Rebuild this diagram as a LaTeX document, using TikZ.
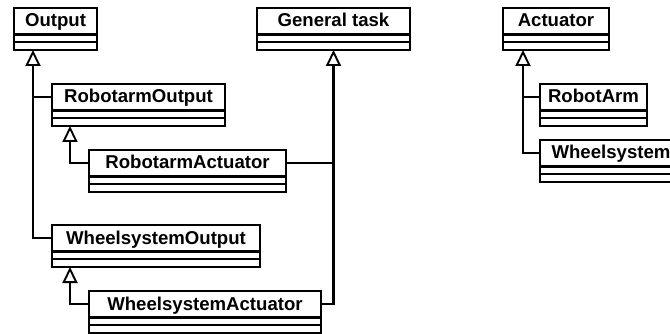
\documentclass[tikz,border=0pt]{standalone}
\usepackage{fontspec}
\setmainfont{Liberation Sans}
\usetikzlibrary{arrows.meta}

\tikzset{
  frame/.style={line width=2.1pt},
  ctitle/.style={frame, draw, rectangle, inner sep=0pt, outer sep=0pt,
    minimum height=26.5pt, text height=14pt, text depth=2.5pt,
    font=\fontsize{18.6pt}{20pt}\selectfont\bfseries},
  ccomp/.style={frame, draw, rectangle, inner sep=0pt, outer sep=0pt,
    minimum height=15.5pt},
  link/.style={frame, line join=miter},
  inherit/.style={link, -{Triangle[open, length=16pt, width=15pt, line width=1.9pt]}},
}

% class box: name, left x, top y, width, title
\newcommand\umlclass[5]{%
  \node[ctitle, minimum width=#4pt, anchor=north west] (#1) at (#2,#3) {#5};
  \node[ccomp, minimum width=#4pt, anchor=north] (#1-c) at (#1.south) {};
  \draw[frame] ([yshift=-7.5pt]#1-c.north west) -- ([yshift=-7.5pt]#1-c.north east);
}

\begin{document}
\begin{tikzpicture}[x=1pt, y=-1pt]
  \useasboundingbox (0,0) rectangle (670,334);
  \clip (0,0) rectangle (670,334);

  % classes
  \umlclass{out}{14}{8}{83}{Output}
  \umlclass{gen}{257}{8}{153}{General task}
  \umlclass{act}{503}{8}{106}{Actuator}
  \umlclass{rout}{52}{84}{173}{RobotarmOutput}
  \umlclass{ract}{89}{150}{197}{RobotarmActuator}
  \umlclass{wout}{52}{225}{208}{WheelsystemOutput}
  \umlclass{wact}{89}{291}{232}{WheelsystemActuator}
  \umlclass{rarm}{540}{84}{107}{RobotArm}
  \umlclass{wsys}{540}{140}{142}{Wheelsystem}

  % feet of the inheritance trunks
  \coordinate (outfoot)  at ([xshift=19pt]out-c.south west);
  \coordinate (routfoot) at ([xshift=18pt]rout-c.south west);
  \coordinate (woutfoot) at ([xshift=18pt]wout-c.south west);
  \coordinate (actfoot)  at ([xshift=20pt]act-c.south west);

  % Output hierarchy
  \draw[inherit] (wout.west) -| (outfoot);
  \draw[link] (rout.west) -- (outfoot |- rout.west);
  \draw[inherit] (ract.west) -| (routfoot);
  \draw[inherit] (wact.west) -| (woutfoot);

  % General task hierarchy
  \draw[inherit] (wact.east) -| (gen-c.south);
  \draw[link] (ract.east) -- (gen-c.south |- ract.east);

  % Actuator hierarchy
  \draw[inherit] (wsys.west) -| (actfoot);
  \draw[link] (rarm.west) -- (actfoot |- rarm.west);
\end{tikzpicture}
\end{document}
